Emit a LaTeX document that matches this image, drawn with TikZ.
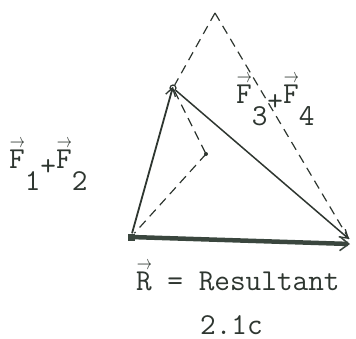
\documentclass[tikz,border=0pt]{standalone}
\usetikzlibrary{arrows.meta}
\definecolor{inkc}{HTML}{2E3630}
\definecolor{heavyc}{HTML}{3A463E}
\newcommand\vecover[1]{\leavevmode\makebox[0pt][l]{\hspace{0.02em}\raisebox{0.66em}{\resizebox{0.5em}{0.24em}{$\rightarrow$}}}#1}
\newcommand\vF{\vecover{F}}
\newcommand\lowsub[1]{\lower 22bp\hbox{#1}}
\newcommand\lowplus{\lower 7bp\hbox{+}}
\begin{document}
\begin{tikzpicture}[x=1bp,y=-1bp,
  ink/.style={draw=inkc, line width=1.3bp},
  dashline/.style={draw=inkc, line width=1.2bp, dash pattern=on 9bp off 6bp},
  tipc/.style={-{Straight Barb[length=8bp,width=10bp,line width=1.3bp]}},
  lbl/.style={inner sep=0pt, font=\ttfamily\fontsize{30.5}{36}\selectfont, text=inkc}
]
\useasboundingbox (0,0) rectangle (356,339);
% points
\coordinate (A) at (215,13);
\coordinate (D) at (206,154);
\coordinate (T) at (349,239);
\coordinate (E) at (350,244);
\node[circle, draw=inkc, line width=1.2bp, inner sep=0pt, minimum size=6bp] (P) at (173,88) {};
\node[rectangle, fill=heavyc, inner sep=0pt, minimum size=7bp] (O) at (131,237) {};
\fill[inkc] (D) circle (2bp);
% dashed construction
\draw[dashline] (A) -- (P);
\draw[dashline] (A) -- (T);
\draw[dashline] (P) -- (D);
\draw[dashline] (D) -- (O);
% vectors
\draw[ink, line width=1.8bp, tipc] (O) -- ([yshift=5bp]P.south);
\draw[ink, line width=1.5bp, tipc] (P) -- (T);
\draw[draw=heavyc, line width=4.5bp, -{Straight Barb[length=9bp,width=14bp,line width=1.5bp]}] (O.center) -- (E);
% labels
\node[lbl, anchor=base west] (L12) at (9,168) {\vF\lowsub{1}\lowplus\vF\lowsub{2}};
\node[lbl, anchor=base west] (L34) at (236,103) {\vF\lowsub{3}\lowplus\vF\lowsub{4}};
\node[lbl, anchor=base west] (LR) at (136,290) {\vecover{R} = Resultant};
\node[lbl, anchor=base west] (LC) at (200,334) {2.1c};
\end{tikzpicture}
\end{document}
